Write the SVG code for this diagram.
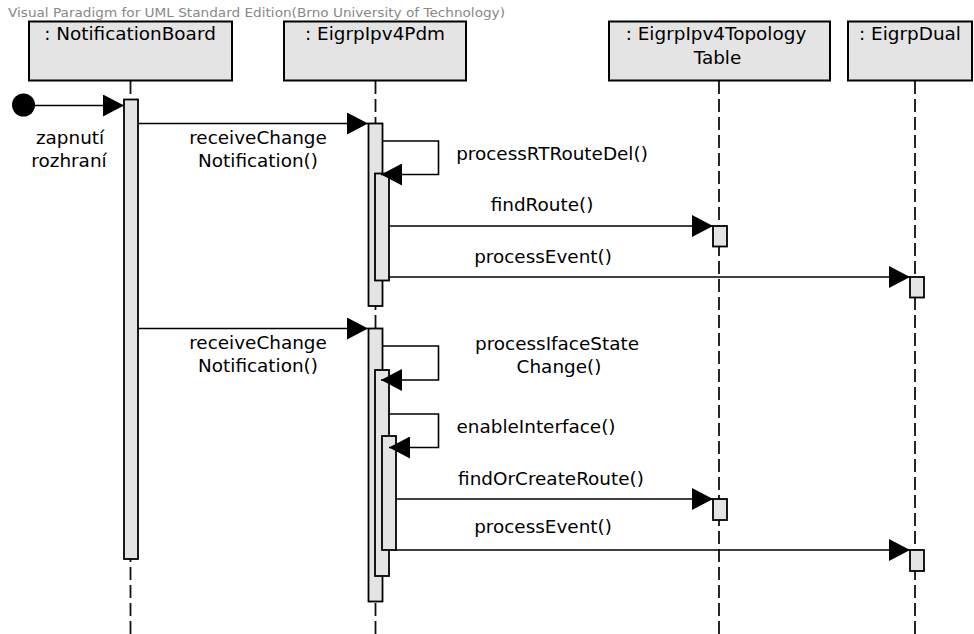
<svg xmlns="http://www.w3.org/2000/svg" width="974" height="634" viewBox="0 0 974 634">
<defs>
<style>
.t{font-family:"DejaVu Sans","Liberation Sans",sans-serif;font-size:18.4px;fill:#000;text-anchor:middle}
.hdr{fill:#e4e4e4;stroke:#000;stroke-width:2}
.life{stroke:#111;stroke-width:1.8;stroke-dasharray:13 5;fill:none}
.bar{fill:#e4e4e4;stroke:#000;stroke-width:1.8}
.msg{stroke:#000;stroke-width:1.6;fill:none;marker-end:url(#ah)}
</style>
<marker id="ah" markerUnits="userSpaceOnUse" markerWidth="22" markerHeight="22" refX="21" refY="11" orient="auto">
<path d="M0,0 L21,11 L0,22 Z" fill="#000"/>
</marker>
</defs>
<rect width="974" height="634" fill="#fff"/>
<text x="8" y="17" font-family="DejaVu Sans, sans-serif" font-size="11.5" fill="#888" textLength="497" lengthAdjust="spacingAndGlyphs">Visual Paradigm for UML Standard Edition(Brno University of Technology)</text>

<g id="lifelines">
<line class="life" x1="130.5" y1="81" x2="130.5" y2="634"/>
<line class="life" x1="375.5" y1="81" x2="375.5" y2="634"/>
<line class="life" x1="719" y1="81" x2="719" y2="634"/>
<line class="life" x1="915" y1="81" x2="915" y2="634"/>
</g>

<g id="NotificationBoard">
<rect class="hdr" x="29" y="21.5" width="203" height="59"/>
<text class="t" x="130" y="40">: NotificationBoard</text>
<rect class="bar" x="124" y="99.5" width="14" height="459.5"/>
</g>

<g id="EigrpIpv4Pdm">
<rect class="hdr" x="284" y="21.5" width="182" height="59"/>
<text class="t" x="375" y="40">: EigrpIpv4Pdm</text>
<rect class="bar" x="368.5" y="123.5" width="14" height="182.5"/>
<rect class="bar" x="375" y="173.5" width="14" height="107"/>
<rect class="bar" x="368.5" y="328.5" width="14" height="273"/>
<rect class="bar" x="375" y="370" width="14" height="206"/>
<rect class="bar" x="382" y="436" width="14" height="114"/>
</g>

<g id="EigrpIpv4TopologyTable">
<rect class="hdr" x="609" y="21.5" width="221" height="59"/>
<text class="t" x="716" y="40">: EigrpIpv4Topology</text>
<text class="t" x="717.5" y="63.5">Table</text>
<rect class="bar" x="713" y="226" width="14" height="20.5"/>
<rect class="bar" x="713" y="499" width="14" height="21"/>
</g>

<g id="EigrpDual">
<rect class="hdr" x="848" y="21.5" width="124" height="59"/>
<text class="t" x="910" y="40">: EigrpDual</text>
<rect class="bar" x="910" y="277" width="14" height="20.5"/>
<rect class="bar" x="910" y="550" width="14" height="21"/>
</g>

<g id="start">
<circle cx="23.5" cy="105" r="11.5" fill="#000"/>
</g>

<g id="connectors">
<path class="msg" d="M35,105.5 H124"/>
<path class="msg" d="M138,123.5 H368"/>
<path class="msg" d="M382.5,141 H438.5 V174.5 H381"/>
<path class="msg" d="M389,226 H713"/>
<path class="msg" d="M389,277 H910"/>
<path class="msg" d="M138,328.5 H368"/>
<path class="msg" d="M382.5,346 H438.5 V380 H381"/>
<path class="msg" d="M389,414 H438.5 V447.5 H389"/>
<path class="msg" d="M396,499 H713"/>
<path class="msg" d="M396,550 H910"/>
</g>

<g id="labels">
<text class="t" x="70" y="144">zapnutí</text>
<text class="t" x="69" y="167">rozhraní</text>
<text class="t" x="258" y="144">receiveChange</text>
<text class="t" x="258" y="167">Notification()</text>
<text class="t" x="552" y="160">processRTRouteDel()</text>
<text class="t" x="542" y="210.5">findRoute()</text>
<text class="t" x="543" y="263">processEvent()</text>
<text class="t" x="258" y="349">receiveChange</text>
<text class="t" x="258" y="372">Notification()</text>
<text class="t" x="557" y="350">processIfaceState</text>
<text class="t" x="559" y="373">Change()</text>
<text class="t" x="536" y="433">enableInterface()</text>
<text class="t" x="551" y="485">findOrCreateRoute()</text>
<text class="t" x="543" y="533">processEvent()</text>
</g>
</svg>
